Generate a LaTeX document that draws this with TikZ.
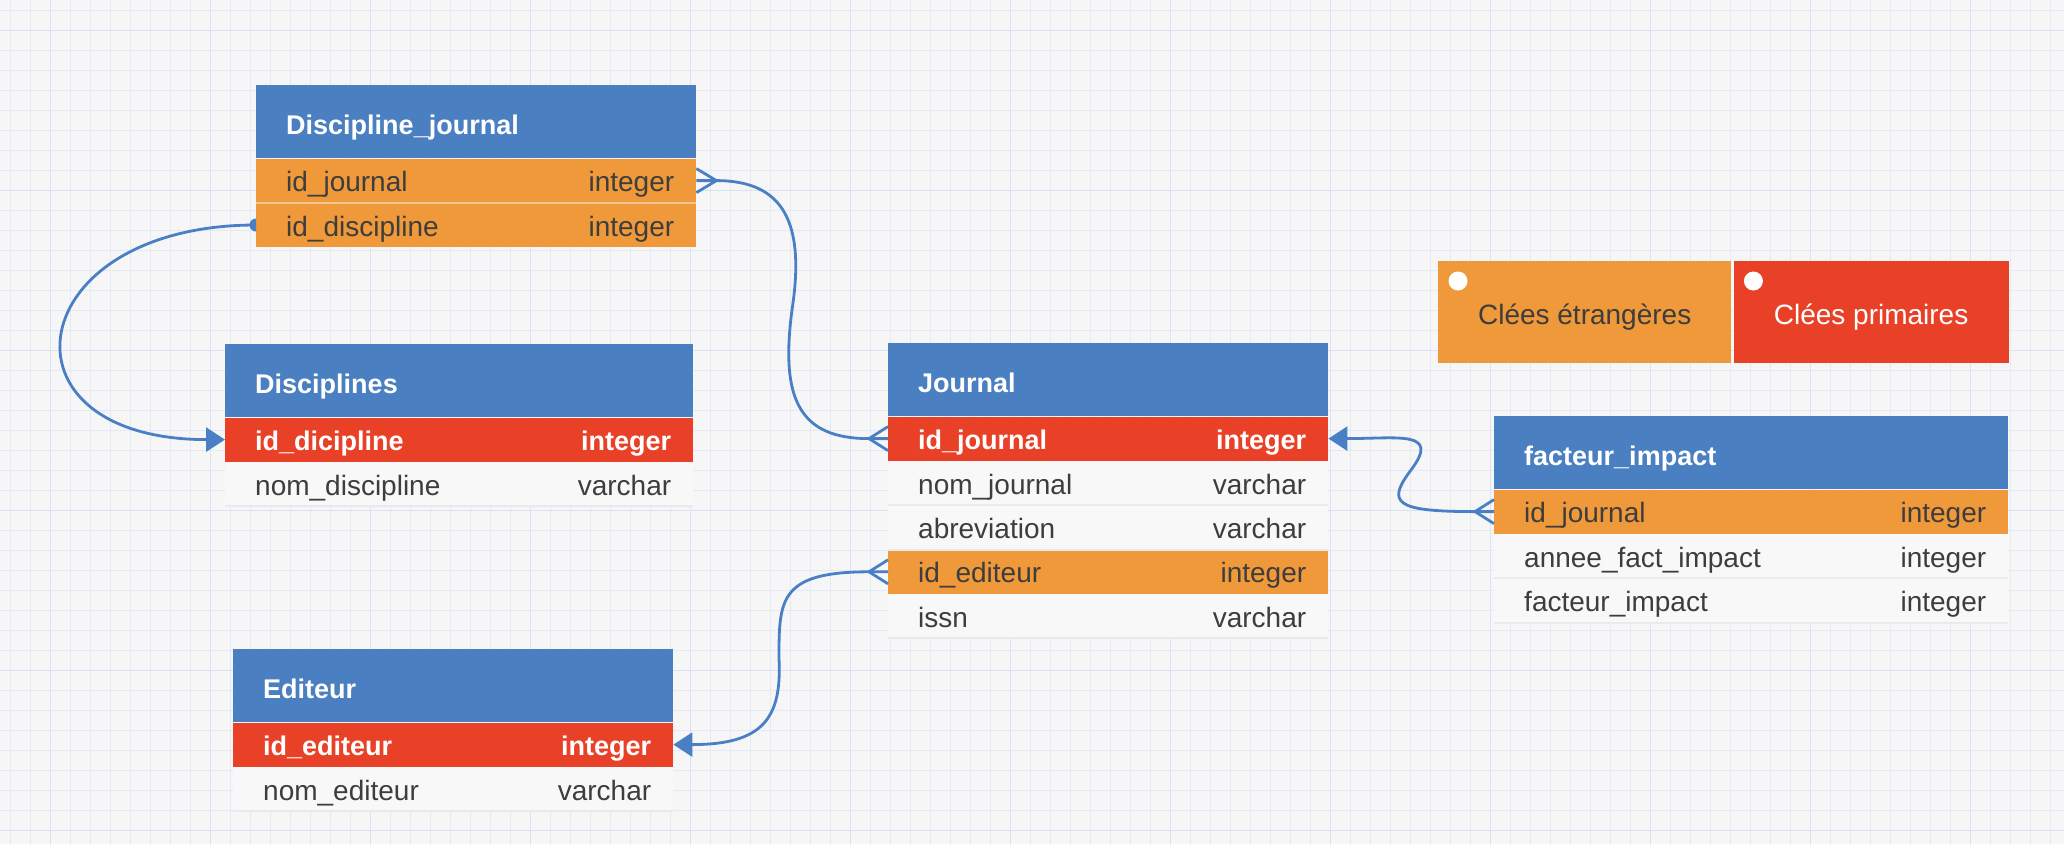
\documentclass[tikz,border=0pt]{standalone}
\usepackage{fontspec}
\setmainfont{Liberation Sans}
\usepackage{tikz}
\usetikzlibrary{calc, positioning, arrows.meta}
\usepackage{xcolor}

\definecolor{hblue}{HTML}{4A7FC1}
\definecolor{fkorange}{HTML}{F0993A}
\definecolor{pkred}{HTML}{E94128}
\definecolor{rowgray}{HTML}{F8F8F8}
\definecolor{rowline}{HTML}{EAEAEA}
\definecolor{bggray}{HTML}{F6F6F7}
\definecolor{gridminor}{HTML}{E4E9F7}
\definecolor{gridmajor}{HTML}{DAE2F5}
\definecolor{txtgray}{HTML}{3D3D3D}
\definecolor{linkblue}{HTML}{4A7FC6}

\tikzset{
	tab/.style={rectangle, inner xsep=30pt, inner ysep=0pt, minimum height=44pt, align=left, text height=22pt, text depth=0pt, font=\fontsize{28}{32}\selectfont, text=txtgray},
	head/.style={tab, fill=hblue, minimum height=73pt, text height=26pt, text=white, font=\fontsize{27}{32}\selectfont\bfseries},
	pk/.style={tab, fill=pkred, text=white, font=\fontsize{27}{32}\selectfont\bfseries},
	fk/.style={tab, fill=fkorange},
	plain/.style={tab, fill=rowgray},
	typ/.style={inner sep=0pt, text height=22pt, text depth=0pt, font=\fontsize{28}{32}\selectfont, text=txtgray},
	pktyp/.style={typ, text=white, font=\fontsize{27}{32}\selectfont\bfseries},
	legend/.style={rectangle, inner sep=0pt, minimum height=102pt, text height=24pt, text depth=0pt, font=\fontsize{28}{32}\selectfont, text=txtgray},
	sep/.style={rowline, line width=2pt},
	link/.style={linkblue, line width=2.8pt, line join=round},
	tip/.style={-{Triangle[length=19pt, width=24pt]}}
}

\begin{document}
\begin{tikzpicture}[x=1pt, y=1pt]
	\useasboundingbox (0,0) rectangle (2064,-844);
	\fill[bggray] (0,0) rectangle (2064,-844);
	\draw[gridminor, line width=1.3pt, xshift=10.7pt, yshift=-10.7pt] (-20,20) grid[step=20] (2060,-840);
	\draw[gridmajor, line width=1.3pt, xshift=50.7pt, yshift=-30.7pt] (-160,160) grid[step=160] (2080,-880);
	
	\node[head, text width=380pt, anchor=north west] (dj) at (256,-85) {Discipline\_journal};
	\node[fk, text width=380pt, below=0pt of dj] (dj-idj) {id\_journal};
	\node[typ, left=22pt of dj-idj.east] (dj-idj-t) {integer};
	\node[fk, text width=380pt, below=0pt of dj-idj] (dj-idd) {id\_discipline};
	\node[typ, left=22pt of dj-idd.east] (dj-idd-t) {integer};
	\draw[fkorange!55!white, line width=1.5pt] (dj-idj.south west) -- (dj-idj.south east);
	
	\node[head, text width=408pt, anchor=north west] (d) at (225,-344) {Disciplines};
	\node[pk, text width=408pt, below=0pt of d] (d-id) {id\_dicipline};
	\node[pktyp, left=22pt of d-id.east] (d-id-t) {integer};
	\node[plain, text width=408pt, below=0pt of d-id] (d-nom) {nom\_discipline};
	\node[typ, left=22pt of d-nom.east] (d-nom-t) {varchar};
	
	\node[head, text width=380pt, anchor=north west] (j) at (888,-343) {Journal};
	\node[pk, text width=380pt, below=0pt of j] (j-idj) {id\_journal};
	\node[pktyp, left=22pt of j-idj.east] (j-idj-t) {integer};
	\node[plain, text width=380pt, below=0pt of j-idj] (j-nom) {nom\_journal};
	\node[typ, left=22pt of j-nom.east] (j-nom-t) {varchar};
	\node[plain, text width=380pt, below=0pt of j-nom] (j-abr) {abreviation};
	\node[typ, left=22pt of j-abr.east] (j-abr-t) {varchar};
	\node[fk, text width=380pt, below=0pt of j-abr] (j-ide) {id\_editeur};
	\node[typ, left=22pt of j-ide.east] (j-ide-t) {integer};
	\node[plain, text width=380pt, below=0pt of j-ide] (j-issn) {issn};
	\node[typ, left=22pt of j-issn.east] (j-issn-t) {varchar};
	
	\node[head, text width=380pt, anchor=north west] (e) at (233,-649) {Editeur};
	\node[pk, text width=380pt, below=0pt of e] (e-id) {id\_editeur};
	\node[pktyp, left=22pt of e-id.east] (e-id-t) {integer};
	\node[plain, text width=380pt, below=0pt of e-id] (e-nom) {nom\_editeur};
	\node[typ, left=22pt of e-nom.east] (e-nom-t) {varchar};
	
	\node[head, text width=454pt, anchor=north west] (f) at (1494,-416) {facteur\_impact};
	\node[fk, text width=454pt, below=0pt of f] (f-idj) {id\_journal};
	\node[typ, left=22pt of f-idj.east] (f-idj-t) {integer};
	\node[plain, text width=454pt, below=0pt of f-idj] (f-annee) {annee\_fact\_impact};
	\node[typ, left=22pt of f-annee.east] (f-annee-t) {integer};
	\node[plain, text width=454pt, below=0pt of f-annee] (f-fact) {facteur\_impact};
	\node[typ, left=22pt of f-fact.east] (f-fact-t) {integer};
	
	\foreach \r in {d-nom, j-nom, j-abr, j-issn, e-nom, f-annee, f-fact}
		\draw[sep] (\r.south west) -- (\r.south east);
	
	\node[legend, fill=fkorange, minimum width=293pt, anchor=north west] (leg-fk) at (1438,-261) {Clées étrangères};
	\node[legend, fill=pkred, text=white, minimum width=275pt, right=2pt of leg-fk] (leg-pk) {Clées primaires};
	\fill[white] ($(leg-fk.north west)+(20,-20)$) circle [radius=9.5];
	\fill[white] ($(leg-pk.north west)+(20,-20)$) circle [radius=9.5];
	
	\coordinate (bend-dj) at (792,-310);
	\coordinate (bend-ed) at (779,-658);
	\coordinate (bend-fi) at (1411,-470);
	
	\fill[linkblue] ($(dj-idd.west)+(0,6.5)$) arc [start angle=90, end angle=270, radius=6.5] -- cycle;
	\draw[link, tip] (dj-idd.west) .. controls +(-236,0) and +(-236,0) .. (d-id.west);
	
	\draw[link] ($(dj-idj.east)+(0,12)$) -- ($(dj-idj.east)+(20,0)$) -- ($(dj-idj.east)+(0,-12)$);
	\draw[link] ($(j-idj.west)+(0,12)$) -- ($(j-idj.west)+(-19,0)$) -- ($(j-idj.west)+(0,-12)$);
	\draw[link] (dj-idj.east) -- ++(20,0) .. controls +(69,0) and +(13,85) .. (bend-dj) .. controls +(-12,-90) and +(-69,0) .. ($(j-idj.west)+(-19,0)$) -- (j-idj.west);
	
	\draw[link] ($(j-ide.west)+(0,12)$) -- ($(j-ide.west)+(-19,0)$) -- ($(j-ide.west)+(0,-12)$);
	\draw[link, tip] (j-ide.west) -- ++(-19,0) .. controls +(-90,0) and +(0,58) .. (bend-ed) .. controls +(3,-60) and +(90,0) .. (e-id.east);
	
	\draw[link] ($(f-idj.west)+(0,12)$) -- ($(f-idj.west)+(-19,0)$) -- ($(f-idj.west)+(0,-12)$);
	\draw[link, tip] (f-idj.west) -- ++(-19,0) .. controls +(-80,0) and +(-25,-33) .. (bend-fi) .. controls +(30,40) and +(70,0) .. (j-idj.east);
\end{tikzpicture}
\end{document}
